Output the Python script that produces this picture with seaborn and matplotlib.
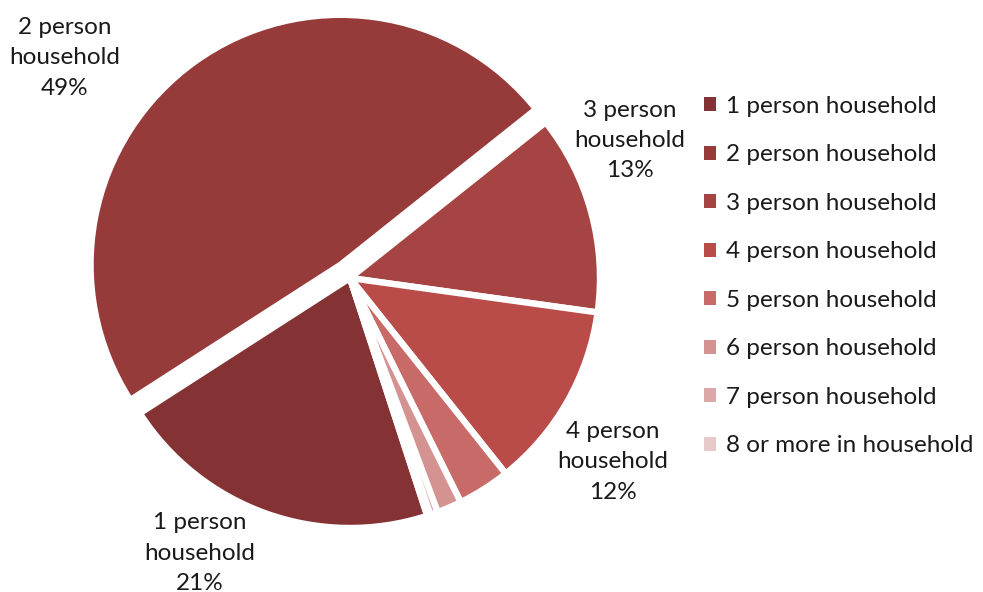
import matplotlib
matplotlib.use("Agg")
import matplotlib.pyplot as plt
from matplotlib.patches import Patch
import seaborn as sns

categories = ["1 person household", "2 person household", "3 person household",
              "4 person household", "5 person household", "6 person household",
              "7 person household", "8 or more in household"]
shares = [20.9, 48.4, 12.9, 12.1, 3.4, 1.6, 0.5, 0.2]
label_texts = ["1 person\nhousehold\n21%", "2 person\nhousehold\n49%",
               "3 person\nhousehold\n13%", "4 person\nhousehold\n12%"]
colors = ["#843233", "#973B3A", "#A54442", "#B94C49",
          "#C76A68", "#D49291", "#DBA7A7", "#E8C9C9"]
explode = [0, 0.065, 0, 0, 0, 0, 0, 0]

sns.set_theme(style="white")
plt.rcParams["font.family"] = ["Lato", "DejaVu Sans"]

W, H = 983, 592
fig = plt.figure(figsize=(W / 100, H / 100), dpi=100)
fig.patch.set_facecolor("white")

cx, cy, R = 350, 278, 250
half = 300
ax = fig.add_axes([(cx - half) / W, (H - cy - half) / H, 2 * half / W, 2 * half / H])
wedges, _ = ax.pie(shares, colors=colors, explode=explode, startangle=288,
                   counterclock=False, radius=1.0,
                   wedgeprops=dict(edgecolor="white", linewidth=4.6))
ax.set_xlim(-half / R, half / R)
ax.set_ylim(-half / R, half / R)
ax.set_aspect("auto")
ax.axis("off")

# data-label positions (data units)
label_pos = [(-0.60, -1.10), (-1.14, 0.88), (1.12, 0.55), (1.052, -0.736)]
for txt, (x, y) in zip(label_texts, label_pos):
    ax.text(x, y, txt, ha="center", va="center", fontsize=17.5, color="#1a1a1a",
            linespacing=1.55)

handles = [Patch(facecolor=c, edgecolor="none") for c in colors]
fig.legend(handles, categories, loc="upper left",
           bbox_to_anchor=(704 / W, 1 - 96 / H), frameon=False,
           fontsize=17.5, handlelength=0.5, handleheight=0.5,
           handletextpad=0.4, labelspacing=1.13, borderpad=0, borderaxespad=0,
           labelcolor="#1a1a1a")

fig.savefig("out.png", dpi=100, facecolor="white")
